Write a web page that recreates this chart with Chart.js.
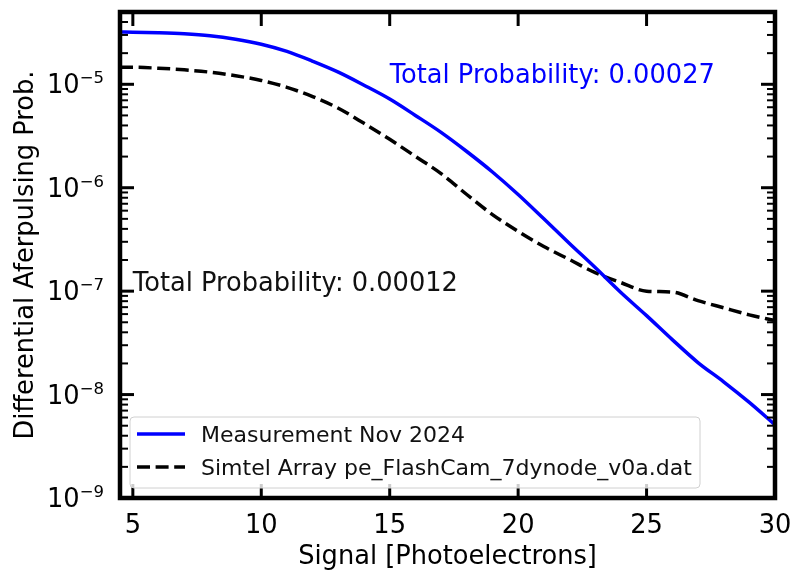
<!DOCTYPE html>
<html>
<head>
<meta charset="utf-8">
<script src="https://cdn.jsdelivr.net/npm/chart.js@4.4.1/dist/chart.umd.min.js"></script>
<style>
  html, body { margin: 0; padding: 0; background: #fff; }
</style>
</head>
<body>
<canvas id="myChart" width="792" height="572"></canvas>
<script>
// signal in photoelectrons
const signal = [4.5, 5, 6, 7, 8, 9, 10, 11, 12, 13, 14, 15, 16, 17, 18, 19, 20, 21, 22, 23, 24, 25, 26, 27, 28, 29, 30];
// differential afterpulsing probability
const measurement = [3.2e-5, 3.19e-5, 3.15e-5, 3.08e-5, 2.95e-5, 2.73e-5, 2.44e-5, 2.08e-5, 1.67e-5, 1.31e-5,
  9.8e-6, 7.2e-6, 5.0e-6, 3.43e-6, 2.24e-6, 1.42e-6, 8.6e-7, 5.0e-7, 2.89e-7, 1.69e-7,
  9.7e-8, 5.8e-8, 3.4e-8, 2.04e-8, 1.33e-8, 8.4e-9, 5.1e-9];
const simtel = [1.46e-5, 1.46e-5, 1.43e-5, 1.38e-5, 1.31e-5, 1.21e-5, 1.09e-5, 9.35e-6, 7.6e-6, 5.86e-6,
  4.19e-6, 2.94e-6, 2.01e-6, 1.37e-6, 8.6e-7, 5.5e-7, 3.78e-7, 2.7e-7, 2.02e-7, 1.51e-7,
  1.21e-7, 1.0e-7, 9.8e-8, 8.1e-8, 6.9e-8, 5.9e-8, 5.2e-8];

const xTicks = [5, 10, 15, 20, 25, 30];
const yExponents = [-9, -8, -7, -6, -5];
const seriesLabels = ["Measurement Nov 2024", "Simtel Array pe_FlashCam_7dynode_v0a.dat"];
const totalMeasurement = "Total Probability: 0.00027";
const totalSimtel = "Total Probability: 0.00012";

const FONT = '"DejaVu Sans", sans-serif';
const BIG = "25.7px " + FONT;
const BLUE = "#0000ff";
const DASH = [13, 5.6];

const axesPlugin = {
  id: "axesPlugin",
  afterDraw(chart) {
    const { ctx, chartArea: a, scales: { x, y } } = chart;
    const line = (x1, y1, x2, y2) => {
      ctx.beginPath(); ctx.moveTo(x1, y1); ctx.lineTo(x2, y2); ctx.stroke();
    };
    ctx.save();
    ctx.strokeStyle = "#000";
    ctx.fillStyle = "#000";

    // x ticks, inward, top and bottom
    ctx.lineWidth = 3;
    xTicks.forEach(v => {
      const px = x.getPixelForValue(v);
      line(px, a.bottom, px, a.bottom - 14);
      line(px, a.top, px, a.top + 14);
    });

    // y ticks, log minor + major, left and right
    yExponents.concat([-4]).forEach(e => {
      for (let m = 1; m <= 9; m++) {
        const v = m * Math.pow(10, e);
        if (v < y.min * 0.999 || v > y.max * 1.001) continue;
        const py = y.getPixelForValue(v);
        const len = m === 1 ? 14 : 8;
        ctx.lineWidth = m === 1 ? 3 : 2;
        line(a.left, py, a.left + len, py);
        line(a.right, py, a.right - len, py);
      }
    });

    // frame
    ctx.lineWidth = 4.5;
    ctx.strokeRect(a.left, a.top, a.right - a.left, a.bottom - a.top);

    // x tick labels
    ctx.font = BIG;
    ctx.textAlign = "center";
    ctx.textBaseline = "alphabetic";
    xTicks.forEach(v => ctx.fillText(String(v), x.getPixelForValue(v), a.bottom + 35));

    // y tick labels 10^n
    yExponents.forEach(e => {
      const py = y.getPixelForValue(Math.pow(10, e));
      const sup = "\u2212" + Math.abs(e);
      ctx.font = "16.5px " + FONT;
      const wSup = ctx.measureText(sup).width;
      ctx.textAlign = "left";
      const right = a.left - 16;
      ctx.fillText(sup, right - wSup, py - 1);
      ctx.font = BIG;
      ctx.textAlign = "right";
      ctx.fillText("10", right - wSup, py + 9);
    });

    // axis titles
    ctx.font = BIG;
    ctx.textAlign = "center";
    ctx.fillText("Signal [Photoelectrons]", (a.left + a.right) / 2, 564);
    ctx.save();
    ctx.translate(33, (a.top + a.bottom) / 2);
    ctx.rotate(-Math.PI / 2);
    ctx.fillText("Differential Aferpulsing Prob.", 0, 0);
    ctx.restore();

    // annotations
    ctx.textAlign = "left";
    ctx.fillStyle = BLUE;
    ctx.fillText(totalMeasurement, x.getPixelForValue(15), y.getPixelForValue(1e-5) - 1);
    ctx.fillStyle = "#111";
    ctx.fillText(totalSimtel, x.getPixelForValue(5), y.getPixelForValue(1e-7));

    // legend
    const lx = 130, ly = 417, lw = 570, lh = 71;
    ctx.beginPath();
    ctx.roundRect(lx, ly, lw, lh, 4);
    ctx.fillStyle = "rgba(255,255,255,0.8)";
    ctx.fill();
    ctx.strokeStyle = "#d0d0d0";
    ctx.lineWidth = 1;
    ctx.stroke();

    const rows = [434, 467];
    ctx.lineWidth = 3.5;
    ctx.strokeStyle = BLUE;
    line(137, rows[0], 185, rows[0]);
    ctx.strokeStyle = "#000";
    ctx.setLineDash(DASH);
    line(137, rows[1], 185, rows[1]);
    ctx.setLineDash([]);

    ctx.fillStyle = "#111";
    ctx.font = "22px " + FONT;
    ctx.textAlign = "left";
    seriesLabels.forEach((t, i) => ctx.fillText(t, 201, rows[i] + 8));

    ctx.restore();
  }
};

const ctx = document.getElementById("myChart");
new Chart(ctx, {
  type: "line",
  data: {
    datasets: [
      {
        label: seriesLabels[0],
        data: signal.map((s, i) => ({ x: s, y: measurement[i] })),
        borderColor: BLUE,
        borderWidth: 3.5,
        pointRadius: 0,
        fill: false,
        cubicInterpolationMode: "monotone",
      },
      {
        label: seriesLabels[1],
        data: signal.map((s, i) => ({ x: s, y: simtel[i] })),
        borderColor: "#000",
        borderWidth: 3.5,
        borderDash: DASH,
        pointRadius: 0,
        fill: false,
        cubicInterpolationMode: "monotone",
      },
    ],
  },
  options: {
    responsive: false,
    animation: false,
    devicePixelRatio: 1,
    layout: { padding: { left: 0, right: 17, top: 12, bottom: 0 } },
    plugins: { legend: { display: false }, tooltip: { enabled: false } },
    scales: {
      x: {
        type: "linear",
        min: 4.5,
        max: 30,
        grid: { display: false },
        border: { display: false },
        ticks: { display: false },
        afterFit(s) { s.height = 74; },
      },
      y: {
        type: "logarithmic",
        min: 1e-9,
        max: 5e-5,
        grid: { display: false },
        border: { display: false },
        ticks: { display: false },
        afterFit(s) { s.width = 120; },
      },
    },
  },
  plugins: [axesPlugin],
});
</script>
</body>
</html>
